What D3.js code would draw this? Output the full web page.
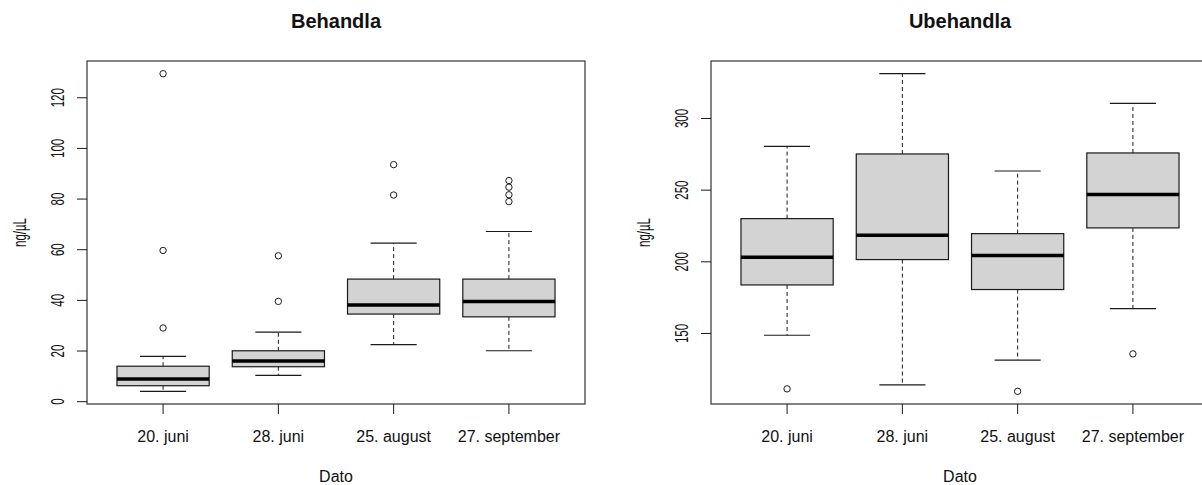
<!DOCTYPE html>
<html>
<head>
<meta charset="utf-8">
<script src="https://cdn.jsdelivr.net/npm/d3@7"></script>
<style>
  body { margin: 0; background: #fff; }
  text { font-family: "Liberation Sans", Arial, sans-serif; fill: #111; }
</style>
</head>
<body>
<div id="chart"></div>
<script>
// sampling dates (x categories)
const dates = ["20. juni", "28. juni", "25. august", "27. september"];

// Behandla: box statistics
const behLow  = [3.9, 10.2, 22.3, 19.9];
const behQ1   = [6.1, 13.6, 34.4, 33.3];
const behMed  = [8.8, 15.9, 38.0, 39.4];
const behQ3   = [13.8, 19.9, 48.2, 48.2];
const behHigh = [17.7, 27.3, 62.4, 67.0];
const behOut  = [[129.3, 59.5, 28.9], [57.4, 39.4], [93.4, 81.4], [87.1, 84.5, 81.5, 78.8]];
const behTicks = [0, 20, 40, 60, 80, 100, 120];

// Ubehandla
const ubLow  = [148.4, 113.8, 131.0, 167.0];
const ubQ1   = [183.5, 201.2, 180.3, 223.3];
const ubMed  = [202.8, 218.1, 204.0, 246.7];
const ubQ3   = [229.8, 274.9, 219.3, 275.6];
const ubHigh = [280.2, 330.9, 263.0, 310.2];
const ubOut  = [[111.0], [], [109.3], [135.4]];
const ubTicks = [150, 200, 250, 300];

const panels = [
  { title: "Behandla", left: 87, right: 585, low: behLow, q1: behQ1, med: behMed, q3: behQ3, high: behHigh, out: behOut, ticks: behTicks },
  { title: "Ubehandla", left: 711, right: 1209, low: ubLow, q1: ubQ1, med: ubMed, q3: ubQ3, high: ubHigh, out: ubOut, ticks: ubTicks }
];

const plotTop = 61, plotBottom = 404;
const ink = "#1a1a1a";

const svg = d3.select("#chart").append("svg")
  .attr("width", 1202)
  .attr("height", 485);

panels.forEach(p => {
  const rows = dates.map((d, i) => ({
    date: d, lo: p.low[i], q1: p.q1[i], med: p.med[i], q3: p.q3[i], hi: p.high[i], out: p.out[i]
  }));

  // R style range: data extent padded 4% each side
  const [mn, mx] = d3.extent([...p.low, ...p.high, ...p.out.flat()]);
  const pad = (mx - mn) * 0.04;
  const y = d3.scaleLinear().domain([mn - pad, mx + pad]).range([plotBottom, plotTop]);

  const x = d3.scaleBand()
    .domain(dates)
    .range([p.left, p.right])
    .paddingInner(0)
    .paddingOuter(0.16);

  const bw = x.bandwidth() * 0.8;
  const cx = d => x(d) + x.bandwidth() / 2;

  const g = svg.append("g");

  const box = g.selectAll(".box")
    .data(rows)
    .enter()
    .append("g")
    .attr("class", "box");

  // dashed whiskers
  box.append("line")
    .attr("x1", d => cx(d.date)).attr("x2", d => cx(d.date))
    .attr("y1", d => y(d.q3)).attr("y2", d => y(d.hi))
    .attr("stroke", ink).attr("stroke-dasharray", "4,3");
  box.append("line")
    .attr("x1", d => cx(d.date)).attr("x2", d => cx(d.date))
    .attr("y1", d => y(d.q1)).attr("y2", d => y(d.lo))
    .attr("stroke", ink).attr("stroke-dasharray", "4,3");

  // staples
  [d => d.hi, d => d.lo].forEach(f => {
    box.append("line")
      .attr("x1", d => cx(d.date) - bw / 4).attr("x2", d => cx(d.date) + bw / 4)
      .attr("y1", d => y(f(d))).attr("y2", d => y(f(d)))
      .attr("stroke", ink).attr("stroke-width", 1.2);
  });

  box.append("rect")
    .attr("x", d => cx(d.date) - bw / 2)
    .attr("width", bw)
    .attr("y", d => y(d.q3))
    .attr("height", d => y(d.q1) - y(d.q3))
    .attr("fill", "#d3d3d3")
    .attr("stroke", ink)
    .attr("stroke-width", 1.2);

  box.append("line")
    .attr("x1", d => cx(d.date) - bw / 2).attr("x2", d => cx(d.date) + bw / 2)
    .attr("y1", d => y(d.med)).attr("y2", d => y(d.med))
    .attr("stroke", "#000").attr("stroke-width", 3.5);

  box.selectAll("circle")
    .data(d => d.out.map(v => ({ date: d.date, v })))
    .enter()
    .append("circle")
    .attr("cx", d => cx(d.date))
    .attr("cy", d => y(d.v))
    .attr("r", 3.2)
    .attr("fill", "none")
    .attr("stroke", ink)
    .attr("stroke-width", 1);

  // frame
  g.append("rect")
    .attr("x", p.left).attr("y", plotTop)
    .attr("width", p.right - p.left).attr("height", plotBottom - plotTop)
    .attr("fill", "none").attr("stroke", "#333").attr("stroke-width", 1.2);

  // axes
  const xAxis = g.append("g")
    .attr("transform", `translate(0,${plotBottom})`)
    .attr("color", ink)
    .call(d3.axisBottom(x).tickSize(10).tickSizeOuter(0));
  xAxis.select(".domain").remove();
  xAxis.selectAll("text")
    .attr("y", 37.7).attr("dy", null)
    .style("font-size", "16px");

  const yAxis = g.append("g")
    .attr("transform", `translate(${p.left},0)`)
    .attr("color", ink)
    .call(d3.axisLeft(y).tickValues(p.ticks).tickSize(10));
  yAxis.select(".domain").remove();
  yAxis.selectAll("text")
    .attr("x", null).attr("dy", null)
    .attr("text-anchor", "middle")
    .attr("transform", "translate(-23.5,0) rotate(-90) scale(1,1.6)")
    .style("font-size", "11.5px");

  // titles and labels
  g.append("text")
    .attr("x", (p.left + p.right) / 2).attr("y", 27.7)
    .attr("text-anchor", "middle")
    .style("font-size", "20px").style("font-weight", "bold")
    .text(p.title);

  g.append("text")
    .attr("x", (p.left + p.right) / 2).attr("y", 482)
    .attr("text-anchor", "middle")
    .style("font-size", "16px")
    .text("Dato");

  g.append("text")
    .attr("text-anchor", "middle")
    .attr("transform", `translate(${p.left - 61},${(plotTop + plotBottom) / 2}) rotate(-90) scale(1,1.6)`)
    .style("font-size", "11.5px")
    .text("ng/µL");
});
</script>
</body>
</html>
